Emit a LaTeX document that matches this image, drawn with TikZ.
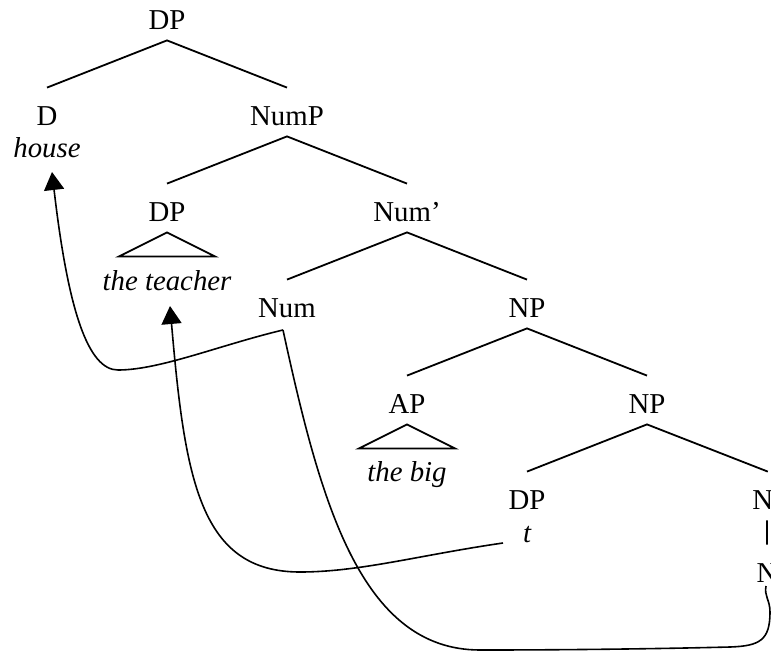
\documentclass[tikz,border=0pt]{standalone}
\usepackage{fontspec}
\setmainfont{Liberation Serif}
\usetikzlibrary{arrows.meta}
\tikzset{
  cat/.style={anchor=base,inner sep=0pt,text height=18.5pt,text depth=5.5pt},
  word/.style={anchor=base,inner sep=0pt,font=\fontsize{14.4}{17}\selectfont\itshape},
  branch/.style={line width=.9pt},
  move/.style={line width=.8pt},
  movearrow/.style={move,-{Triangle[length=9pt,width=10pt]}}
}
\begin{document}
\begin{tikzpicture}[x=.5pt,y=-.5pt,font=\fontsize{14.4}{17}\selectfont]
\useasboundingbox (0,0) rectangle (771,653);
\node[cat] (dp)      at (167,29)  {DP};
\node[cat] (d)       at (47,125)  {D};
\node[cat] (nump)    at (287,125) {NumP};
\node[cat] (dpsub)   at (167,221) {DP};
\node[cat] (numbar)  at (407,221) {Num’};
\node[cat] (num)     at (287,317) {Num};
\node[cat] (np)      at (527,317) {NP};
\node[cat] (ap)      at (407,413) {AP};
\node[cat] (nplow)   at (647,413) {NP};
\node[cat] (dptrace) at (527,509) {DP};
\node[cat,anchor=base west] (nbar) at (752,509) {N};
\node[cat] (n)       at (767,582) {N};
\node[word] (house)   at (47,157)  {house};
\node[word] (teacher) at (167,290) {the teacher};
\node[word] (big)     at (407,481) {the big};
\node[word] (trace)   at (527,542) {t};
\draw[branch] (d.north) -- (dp.south) -- (nump.north)
      (dpsub.north) -- (nump.south) -- (numbar.north)
      (num.north) -- (numbar.south) -- (np.north)
      (ap.north) -- (np.south) -- (nplow.north)
      (dptrace.north) -- (nplow.south) -- ([xshift=2.5pt]nbar.north)
      (nbar.south -| n) -- (n.north);
\draw[branch] (dpsub.south) -- ++(-48,24) -- ++(96,0) -- cycle
      (ap.south) -- ++(-48,24) -- ++(96,0) -- cycle;
\coordinate (numfoot) at (283,330);
\coordinate (housefoot) at (52,172);
\coordinate (tfoot) at (503,543);
\coordinate (teacherfoot) at (170,306);
\coordinate (nfoot) at (766,586);
\draw[move] (nfoot) .. controls (764,596) and (770,600) .. (770,612)
      .. controls (770,640) and (760,646) .. (730,647)
      .. controls (650,649) and (560,650) .. (480,650)
      .. controls (360,650) and (320,500) .. (numfoot);
\draw[movearrow] (numfoot) .. controls (220,345) and (160,370) .. (118,370)
      .. controls (88,370) and (68,310) .. (housefoot);
\draw[movearrow] (tfoot) .. controls (420,555) and (360,572) .. (300,572)
      .. controls (200,572) and (185,480) .. (teacherfoot);
\end{tikzpicture}
\end{document}
